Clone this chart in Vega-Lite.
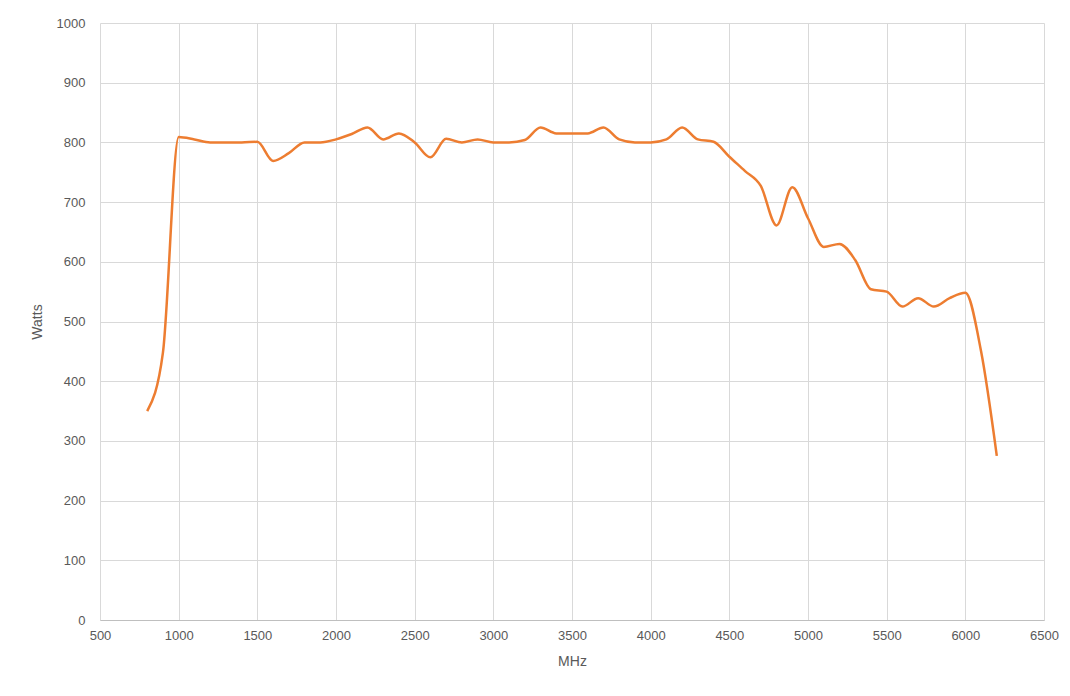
{
  "$schema": "https://vega.github.io/schema/vega-lite/v6.json",
  "width": 944,
  "height": 597,
  "autosize": {"type": "none"},
  "padding": {"left": 100, "top": 23, "right": 26, "bottom": 76},
  "background": "white",
  "config": {
    "view": {"stroke": null},
    "axis": {
      "labelFont": "Liberation Sans",
      "labelFontSize": 13,
      "labelColor": "#595959",
      "titleFont": "Liberation Sans",
      "titleFontSize": 14,
      "titleFontWeight": "normal",
      "titleColor": "#595959",
      "gridColor": "#d9d9d9",
      "gridWidth": 1,
      "ticks": false
    }
  },
  "data": {
    "values": [
      {"MHz": 800, "Watts": 350},
      {"MHz": 900, "Watts": 448},
      {"MHz": 1000, "Watts": 809},
      {"MHz": 1100, "Watts": 805},
      {"MHz": 1200, "Watts": 800},
      {"MHz": 1300, "Watts": 800},
      {"MHz": 1400, "Watts": 800},
      {"MHz": 1500, "Watts": 801},
      {"MHz": 1600, "Watts": 769},
      {"MHz": 1700, "Watts": 782},
      {"MHz": 1800, "Watts": 800},
      {"MHz": 1900, "Watts": 800},
      {"MHz": 2000, "Watts": 805},
      {"MHz": 2100, "Watts": 814},
      {"MHz": 2200, "Watts": 825},
      {"MHz": 2300, "Watts": 805},
      {"MHz": 2400, "Watts": 815},
      {"MHz": 2500, "Watts": 800},
      {"MHz": 2600, "Watts": 775},
      {"MHz": 2700, "Watts": 806},
      {"MHz": 2800, "Watts": 800},
      {"MHz": 2900, "Watts": 805},
      {"MHz": 3000, "Watts": 800},
      {"MHz": 3100, "Watts": 800},
      {"MHz": 3200, "Watts": 804},
      {"MHz": 3300, "Watts": 825},
      {"MHz": 3400, "Watts": 815},
      {"MHz": 3500, "Watts": 815},
      {"MHz": 3600, "Watts": 815},
      {"MHz": 3700, "Watts": 825},
      {"MHz": 3800, "Watts": 805},
      {"MHz": 3900, "Watts": 800},
      {"MHz": 4000, "Watts": 800},
      {"MHz": 4100, "Watts": 805},
      {"MHz": 4200, "Watts": 825},
      {"MHz": 4300, "Watts": 805},
      {"MHz": 4400, "Watts": 801},
      {"MHz": 4500, "Watts": 776},
      {"MHz": 4600, "Watts": 752},
      {"MHz": 4700, "Watts": 727},
      {"MHz": 4800, "Watts": 661},
      {"MHz": 4900, "Watts": 725},
      {"MHz": 5000, "Watts": 673},
      {"MHz": 5100, "Watts": 625},
      {"MHz": 5200, "Watts": 630},
      {"MHz": 5300, "Watts": 603},
      {"MHz": 5400, "Watts": 554},
      {"MHz": 5500, "Watts": 550},
      {"MHz": 5600, "Watts": 525},
      {"MHz": 5700, "Watts": 539},
      {"MHz": 5800, "Watts": 525},
      {"MHz": 5900, "Watts": 539},
      {"MHz": 6000, "Watts": 548},
      {"MHz": 6100, "Watts": 450},
      {"MHz": 6200, "Watts": 275}
    ]
  },
  "mark": {"type": "line", "color": "#ED7D31", "strokeWidth": 2.5, "interpolate": "monotone"},
  "encoding": {
    "x": {
      "field": "MHz", "type": "quantitative",
      "scale": {"domain": [500, 6500], "nice": false, "zero": false},
      "axis": {"values": [500,1000,1500,2000,2500,3000,3500,4000,4500,5000,5500,6000,6500], "format": "d", "title": "MHz", "labelPadding": 9, "titlePadding": 12, "domainColor": "#bfbfbf", "labelFlush": false}
    },
    "y": {
      "field": "Watts", "type": "quantitative",
      "scale": {"domain": [0, 1000], "nice": false},
      "axis": {"values": [0,100,200,300,400,500,600,700,800,900,1000], "format": "d", "title": "Watts", "labelPadding": 15, "titlePadding": 12, "domain": false, "labelFlush": false}
    }
  }
}
